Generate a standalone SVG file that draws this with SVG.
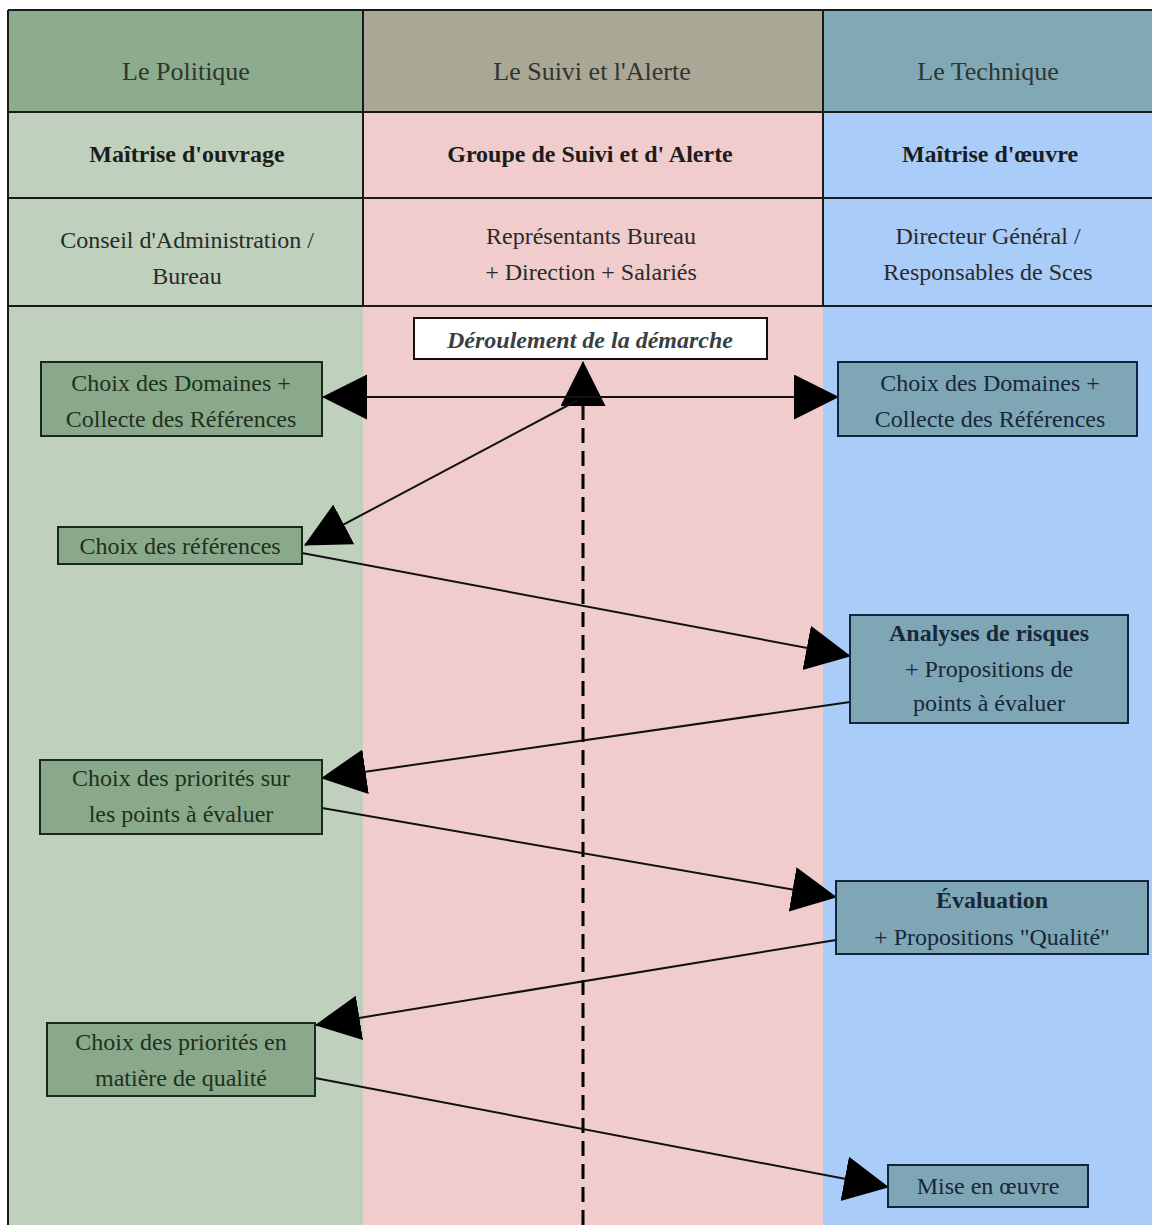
<svg xmlns="http://www.w3.org/2000/svg" width="1152" height="1225" viewBox="0 0 1152 1225">
<style>
text{text-anchor:middle;}
.h1{font-size:26px;fill:#2f3530;}
.h2{font-size:24px;font-weight:bold;fill:#1c1c1c;}
.h3{font-size:24px;fill:#2a2a2a;}
.ln{fill:none;stroke:#1a1a1a;stroke-width:2;}
.gn{fill:#8aa98a;stroke:#1a2a1a;stroke-width:2;}
.bn{fill:#7fa6b5;stroke:#14233f;stroke-width:2;}
.gt{font-size:24px;fill:#1e301f;}
.bt{font-size:24px;fill:#16283a;}
.conn{fill:none;stroke:#111;stroke-width:2;}
.dash{fill:none;stroke:#000;stroke-width:3;stroke-dasharray:15 8;}
</style>
<defs>
<marker id="ah" markerUnits="userSpaceOnUse" markerWidth="46" markerHeight="46" refX="44" refY="22.5" orient="auto" viewBox="0 0 46 46">
<path d="M0,0 L45,22.5 L0,45 z" fill="#000"/>
</marker>
</defs>
<g font-family="Liberation Serif, Times New Roman, serif">
<rect x="0" y="0" width="1152" height="1225" fill="#ffffff"/>
<rect x="9" y="10" width="354" height="102" fill="#8dab8d"/>
<rect x="363" y="10" width="460" height="102" fill="#aaa797"/>
<rect x="823" y="10" width="329" height="102" fill="#80a8b5"/>
<rect x="9" y="112" width="354" height="1113" fill="#bfd1bc"/>
<rect x="363" y="112" width="460" height="1113" fill="#f0cdcc"/>
<rect x="823" y="112" width="329" height="1113" fill="#aaccf8"/>
<g id="grid">
<line class="ln" x1="8" y1="10" x2="1152" y2="10"/>
<line class="ln" x1="8" y1="10" x2="8" y2="1225"/>
<line class="ln" x1="8" y1="112" x2="1152" y2="112"/>
<line class="ln" x1="8" y1="198" x2="1152" y2="198"/>
<line class="ln" x1="8" y1="306" x2="1152" y2="306"/>
<line class="ln" x1="363" y1="10" x2="363" y2="306"/>
<line class="ln" x1="823" y1="10" x2="823" y2="306"/>
</g>
<g id="headers">
<text class="h1" x="186" y="80">Le Politique</text>
<text class="h1" x="592" y="80">Le Suivi et l'Alerte</text>
<text class="h1" x="988" y="80">Le Technique</text>
<text class="h2" x="187" y="162">Maîtrise d'ouvrage</text>
<text class="h2" x="590" y="162">Groupe de Suivi et d' Alerte</text>
<text class="h2" x="990" y="162">Maîtrise d'œuvre</text>
<text class="h3" x="187" y="248">Conseil d'Administration /</text>
<text class="h3" x="187" y="284">Bureau</text>
<text class="h3" x="591" y="244">Représentants Bureau</text>
<text class="h3" x="591" y="280">+ Direction + Salariés</text>
<text class="h3" x="988" y="244">Directeur Général /</text>
<text class="h3" x="988" y="280">Responsables de Sces</text>
</g>
<g id="connectors">
<line class="dash" x1="583" y1="405" x2="583" y2="1225"/>
<line class="conn" x1="583" y1="420" x2="583" y2="362" marker-end="url(#ah)"/>
<line class="conn" x1="583" y1="397" x2="323" y2="397" marker-end="url(#ah)"/>
<line class="conn" x1="583" y1="397" x2="838" y2="397" marker-end="url(#ah)"/>
<line class="conn" x1="578" y1="400" x2="305" y2="545" marker-end="url(#ah)"/>
<line class="conn" x1="302" y1="553" x2="850" y2="656" marker-end="url(#ah)"/>
<line class="conn" x1="850" y1="702" x2="322" y2="778" marker-end="url(#ah)"/>
<line class="conn" x1="322" y1="808" x2="836" y2="897" marker-end="url(#ah)"/>
<line class="conn" x1="836" y1="940" x2="316" y2="1025" marker-end="url(#ah)"/>
<line class="conn" x1="315" y1="1078" x2="888" y2="1187" marker-end="url(#ah)"/>
</g>
<g id="deroulement">
<rect x="414" y="318" width="353" height="41" fill="#ffffff" stroke="#111" stroke-width="2"/>
<text x="590" y="348" font-size="24" font-weight="bold" font-style="italic" fill="#3a3f44">Déroulement de la démarche</text>
</g>
<g id="pol-domaines">
<rect class="gn" x="41" y="362" width="281" height="74"/>
<text class="gt" x="181" y="391">Choix des Domaines +</text>
<text class="gt" x="181" y="427">Collecte des Références</text>
</g>
<g id="tech-domaines">
<rect class="bn" x="838" y="362" width="299" height="74"/>
<text class="bt" x="990" y="391">Choix des Domaines +</text>
<text class="bt" x="990" y="427">Collecte des Références</text>
</g>
<g id="pol-references">
<rect class="gn" x="58" y="527" width="244" height="37"/>
<text class="gt" x="180" y="554">Choix des références</text>
</g>
<g id="tech-analyses">
<rect class="bn" x="850" y="615" width="278" height="108"/>
<text class="bt" x="989" y="641" font-weight="bold">Analyses de risques</text>
<text class="bt" x="989" y="677">+  Propositions de</text>
<text class="bt" x="989" y="711">points à évaluer</text>
</g>
<g id="pol-priorites-points">
<rect class="gn" x="40" y="760" width="282" height="74"/>
<text class="gt" x="181" y="786">Choix des priorités sur</text>
<text class="gt" x="181" y="822">les points à évaluer</text>
</g>
<g id="tech-evaluation">
<rect class="bn" x="836" y="881" width="312" height="73"/>
<text class="bt" x="992" y="908" font-weight="bold">Évaluation</text>
<text class="bt" x="992" y="945">+  Propositions "Qualité"</text>
</g>
<g id="pol-priorites-qualite">
<rect class="gn" x="47" y="1023" width="268" height="73"/>
<text class="gt" x="181" y="1050">Choix des priorités en</text>
<text class="gt" x="181" y="1086">matière de qualité</text>
</g>
<g id="tech-mise">
<rect class="bn" x="888" y="1165" width="200" height="42"/>
<text class="bt" x="988" y="1194">Mise en œuvre</text>
</g>
</g>
</svg>
